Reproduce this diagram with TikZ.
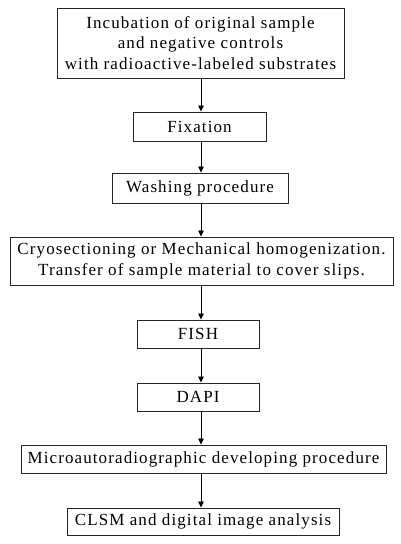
\documentclass[tikz,border=0pt]{standalone}
\usepackage{fontspec}
\setmainfont{Liberation Serif}[LetterSpace=6.5]
\usetikzlibrary{arrows.meta}
\begin{document}
\begin{tikzpicture}[x=1pt,y=-1pt,
  stepbox/.style={draw=black!85,line width=0.9pt,inner sep=0pt,align=center,
    font=\fontsize{17}{20.5}\selectfont},
  flow/.style={draw=black,line width=0.8pt,-{Triangle[length=6pt,width=5.5pt]}}]
\useasboundingbox (0,0) rectangle (400,544);
\node[stepbox,minimum width=287pt,minimum height=70pt] (inc) at (200.5,43) {Incubation of original sample\\and negative controls\\with radioactive-labeled substrates};
\node[stepbox,minimum width=133pt,minimum height=29pt] (fix) at (199.5,126.5) {Fixation};
\node[stepbox,minimum width=176pt,minimum height=30pt] (wash) at (200,188) {Washing procedure};
\node[stepbox,minimum width=383pt,minimum height=48pt] (cryo) at (201.5,261) {Cryosectioning or Mechanical homogenization.\\Transfer of sample material to cover slips.};
\node[stepbox,minimum width=122pt,minimum height=28pt] (fish) at (198,334) {FISH};
\node[stepbox,minimum width=122pt,minimum height=28pt] (dapi) at (198,397) {DAPI};
\node[stepbox,minimum width=365pt,minimum height=28pt] (micro) at (203.5,459) {Microautoradiographic developing procedure};
\node[stepbox,minimum width=272pt,minimum height=27pt] (clsm) at (203,521.5) {CLSM and digital image analysis};
\coordinate (col) at (201,0);
\draw[flow] (inc.south -| col) -- (fix.north -| col);
\draw[flow] (fix.south -| col) -- (wash.north -| col);
\draw[flow] (wash.south -| col) -- (cryo.north -| col);
\draw[flow] (cryo.south -| col) -- (fish.north -| col);
\draw[flow] (fish.south -| col) -- (dapi.north -| col);
\draw[flow] (dapi.south -| col) -- (micro.north -| col);
\draw[flow] (micro.south -| col) -- (clsm.north -| col);
\end{tikzpicture}
\end{document}
